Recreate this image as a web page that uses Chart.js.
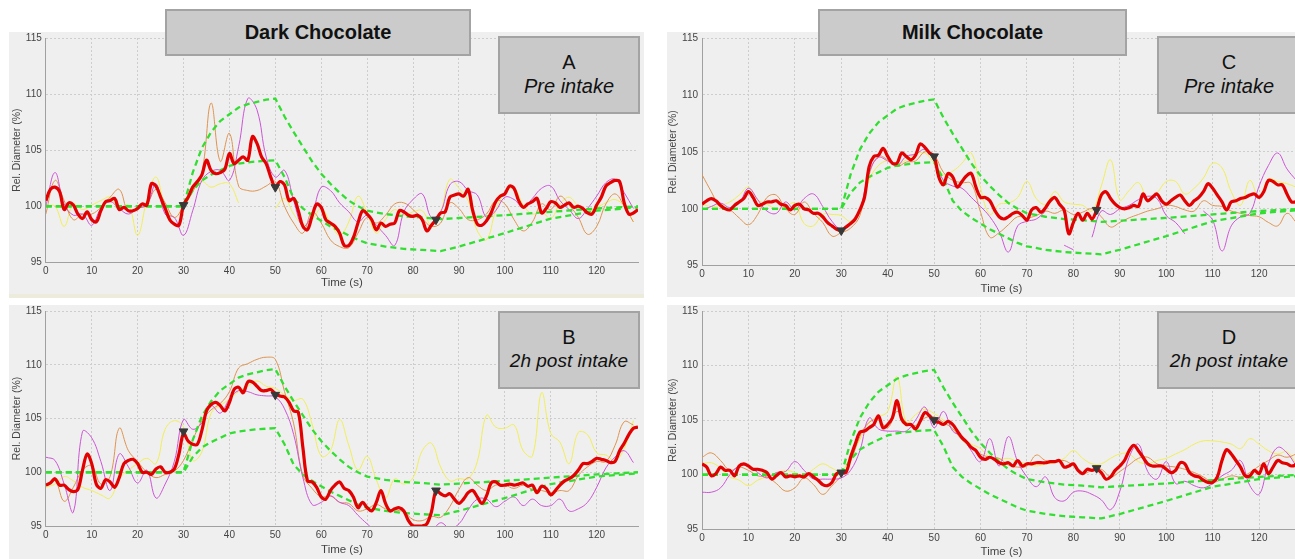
<!DOCTYPE html>
<html>
<head>
<meta charset="utf-8">
<script src="https://cdn.jsdelivr.net/npm/chart.js@4.4.1/dist/chart.umd.min.js"></script>
<style>
body{margin:0;width:1295px;height:559px;overflow:hidden;background:#fff;position:relative;font-family:"Liberation Sans",Arial,sans-serif}
.panel{position:absolute;background:#efefef}
.panel canvas{position:absolute;left:0;top:0}
.head{position:absolute;background:#cbcbcb;border:2px solid #a3a3a3;box-sizing:border-box;text-align:center;font-weight:bold;font-size:20px;line-height:43px;color:#111}
.tag{position:absolute;background:#c9c9c9;border:2px solid #a3a3a3;box-sizing:border-box;text-align:center;font-size:20px;line-height:24px;padding-top:12px;color:#111}
.tag i{display:block}
.strip{position:absolute;background:#ecebdc}
</style>
</head>
<body>
<div class="panel" style="left:9px;top:32px;width:635px;height:263px"><canvas id="chartA" width="635" height="263"></canvas></div>
<div class="strip" style="left:9px;top:294px;width:635px;height:4px"></div>
<div class="panel" style="left:9px;top:305px;width:635px;height:254px"><canvas id="chartB" width="635" height="254"></canvas></div>
<div class="panel" style="left:667px;top:32px;width:640px;height:265px"><canvas id="chartC" width="640" height="265"></canvas></div>
<div class="panel" style="left:667px;top:305px;width:640px;height:254px"><canvas id="chartD" width="640" height="254"></canvas></div>

<div class="head" style="left:165px;top:9px;width:306px;height:47px">Dark Chocolate</div>
<div class="head" style="left:818px;top:9px;width:309px;height:47px">Milk Chocolate</div>
<div class="tag" style="left:498px;top:36px;width:142px;height:78px">A<i>Pre intake</i></div>
<div class="tag" style="left:498px;top:311px;width:142px;height:78px">B<i style="font-size:19px">2h post intake</i></div>
<div class="tag" style="left:1157px;top:36px;width:144px;height:78px">C<i>Pre intake</i></div>
<div class="tag" style="left:1157px;top:311px;width:144px;height:78px">D<i style="font-size:19px">2h post intake</i></div>

<script>
// time axes (s)
const time1 = [0,1,2,3,4,5,6,7,8,9,10,11,12,13,14,15,16,17,18,19,20,21,22,23,24,25,26,27,28,29,
  30,31,32,33,34,35,36,37,38,39,40,41,42,43,44,45,46,47,48,49,50,51,52,53,54,55,56,57,58,59,
  60,61,62,63,64,65,66,67,68,69,70,71,72,73,74,75,76,77,78,79,80,81,82,83,84,85,86,87,88,89,
  90,91,92,93,94,95,96,97,98,99,100,101,102,103,104,105,106,107,108,109,110,111,112,113,114,115,116,117,118,119,
  120,121,122,123,124,125,126,127,128,129];
const time2 = [0,2,4,6,8,10,12,14,16,18,20,22,24,26,28,30,32,34,36,38,40,42,44,46,48,50,52,54,56,58,
  60,62,64,66,68,70,72,74,76,78,80,82,84,86,88,90,92,94,96,98,100,102,104,106,108,110,112,114,116,118,
  120,122,124,126,128];
const envTime = [0,30,32,34,36,38,40,42,44,46,48,50,52,54,56,58,60,62,64,66,68,70,74,78,82,86,90,100,110,120,129];
const markTime = [30,50,85];

// green reference band (same in every panel)
const upperEnv = [100,100,103.0,105.2,106.6,107.6,108.2,108.8,109.1,109.3,109.5,109.6,108.0,106.6,105.3,104.0,102.9,102.0,101.2,100.5,100.0,99.6,99.3,99.1,99.0,98.85,98.95,99.2,99.5,99.8,100.0];
const lowerEnv = [100,100,101.4,102.3,102.8,103.2,103.6,103.8,103.9,104.0,104.05,104.1,102.6,100.7,99.8,99.2,98.7,98.2,97.8,97.4,97.0,96.7,96.4,96.2,96.1,96.0,96.4,97.6,98.9,99.6,99.9];

// A: dark chocolate, pre intake
const redA = [100.5,101.5,101.7,101.3,99.7,100.3,100.1,99.3,98.9,99.5,98.8,98.6,99.6,100.4,100.5,100.7,99.7,99.9,99.6,99.6,
  99.8,100.2,100.1,102.0,101.8,100.8,99.8,98.8,98.4,98.3,100.1,100.8,101.7,102.2,102.8,104.1,103.2,102.9,103.0,103.3,
  104.7,103.8,104.1,104.4,104.1,106.2,105.6,104.4,103.8,102.6,101.7,102.2,101.9,100.5,100.7,99.6,98.2,97.9,99.1,100.2,
  99.9,98.8,98.5,98.2,97.6,96.5,96.5,97.2,98.5,99.6,99.3,98.8,97.9,98.5,98.2,98.4,98.5,99.6,99.5,99.2,
  99.1,99.2,98.8,97.8,98.3,98.8,99.4,99.5,100.8,101.0,101.1,100.9,101.5,99.6,98.4,98.3,98.7,99.4,100.4,100.9,
  101.1,101.8,101.6,100.5,99.9,100.2,100.4,100.7,99.4,99.8,100.4,100.3,99.9,100.1,100.3,99.9,100.0,99.8,99.4,99.3,
  100.1,100.8,101.8,102.1,102.3,102.2,100.3,99.3,99.4,99.7];
const purpleA = [100.0,103.0,100.2,99.2,99.3,98.3,99.8,100.4,99.8,99.3,99.8,100.1,102.0,99.3,99.0,97.4,99.6,102.3,103.1,103.2,
  102.3,105.3,109.6,108.6,104.4,102.6,103.2,100.5,98.2,99.3,101.7,101.4,100.3,99.5,98.6,99.2,98.3,97.4,96.5,99.5,
  100.6,101.1,99.0,99.5,101.9,102.2,101.4,101.0,99.0,99.6,100.8,100.6,99.9,100.7,101.6,101.8,100.5,99.7,98.9,99.8,
  100.9,102.1,102.4,101.2,99.8];
const orangeA = [99.3,102.3,100.5,98.8,99.3,99.3,99.9,100.8,101.5,99.5,99.8,100.2,101.5,100.3,99.0,100.0,101.3,103.0,109.2,104.0,
  106.5,101.8,101.4,101.4,101.8,102.2,100.0,98.5,97.6,99.5,98.5,97.0,96.4,96.3,97.6,99.0,98.5,99.2,100.2,100.3,
  99.7,98.9,98.2,98.5,100.3,99.8,98.8,98.8,99.3,100.5,100.2,98.8,97.8,98.6,100.2,99.7,100.9,100.1,99.0,97.5,
  98.2,100.2,101.1,100.0,98.6];
const yellowA = [100.0,100.0,98.2,100.2,99.7,100.1,100.5,100.8,99.7,100.1,97.4,100.5,102.6,100.0,99.0,100.0,101.4,102.2,101.7,102.0,
  102.0,100.3,null,null,null,99.8,100.7,99.3,98.4,98.8,99.8,98.5,97.4,98.6,100.9,99.4,97.6,98.8,99.7,99.2,
  99.5,99.6,98.3,99.5,102.4,101.6,100.5,97.8,97.0,99.6,101.2,101.6,100.1,99.3,99.5,98.9,100.2,100.8,100.0,99.5,
  99.9,100.3,100.6,100.0,98.6];
const markA = [100.1,101.7,98.8];

// B: dark chocolate, 2h post intake
const redB = [98.8,99.0,99.4,98.8,98.8,98.4,98.2,98.4,100.2,101.7,100.8,98.9,98.5,99.3,99.1,98.6,99.5,100.8,101.1,101.2,
  100.8,100.0,100.0,99.8,100.3,100.5,100.0,100.0,100.3,101.7,103.6,102.9,102.6,102.6,103.9,105.7,106.3,106.5,106.2,105.7,
  106.5,107.7,107.9,107.4,108.4,108.4,108.0,107.6,107.6,107.7,107.3,107.1,107.0,106.5,105.7,105.6,102.3,99.2,99.1,98.6,
  97.7,97.5,98.3,98.8,99.1,98.5,98.3,97.7,96.7,97.2,96.7,96.4,97.2,98.3,97.1,96.4,96.6,96.7,96.4,95.5,
  95.0,95.0,95.0,95.2,96.3,98.3,98.0,97.8,98.0,97.5,97.1,97.5,98.1,98.3,97.7,97.1,97.8,99.0,99.1,98.8,
  98.8,98.9,98.8,98.9,99.0,98.7,98.8,98.1,98.7,98.5,97.9,98.3,98.8,99.2,99.4,99.7,100.2,100.8,100.8,101.0,
  101.3,101.2,101.1,100.9,101.0,102.0,102.7,103.5,104.1,104.2];
const purpleB = [101.4,101.1,98.9,96.3,103.8,103.2,101.0,98.3,101.7,100.5,99.0,100.2,97.6,98.9,101.0,104.9,104.0,104.6,106.2,105.5,
  106.8,107.6,107.5,107.2,107.1,107.0,105.9,103.5,99.5,97.0,97.2,97.8,97.2,96.9,96.0,95.2,94.5,94.2,94.0,94.3,
  94.5,94.3,94.5,95.3,94.8,95.2,96.5,97.5,97.5,96.8,97.3,97.7,96.9,97.5,96.9,96.9,97.5,96.4,96.6,97.2,
  98.6,100.4,101.4,102.0,100.9];
const orangeB = [98.9,99.2,97.3,98.6,100.2,100.6,98.9,99.6,104.1,102.0,101.0,100.0,99.5,99.8,100.1,101.1,103.0,104.8,105.8,106.4,
  107.5,109.7,110.1,110.5,110.7,110.5,107.5,104.5,99.7,98.5,97.7,97.8,97.2,97.1,96.4,96.6,97.0,96.6,96.5,96.3,
  95.6,95.5,95.9,95.8,96.8,98.4,99.5,98.8,98.3,98.8,98.8,98.5,98.8,98.4,98.3,98.1,98.3,98.3,99.7,100.5,
  101.0,101.0,102.5,104.7,104.4];
const yellowB = [98.6,98.9,99.6,99.2,98.6,98.3,97.9,97.6,99.4,100.2,100.8,101.3,100.8,104.0,104.8,104.2,101.1,101.9,105.5,106.2,
  106.8,107.5,108.0,108.5,108.0,107.8,107.2,106.7,106.8,104.5,101.5,102.0,104.9,102.5,100.2,101.5,99.3,97.6,99.4,98.9,
  99.5,102.0,102.7,100.5,99.2,99.4,99.4,101.0,105.3,104.2,104.1,104.4,102.0,101.5,107.4,103.6,102.8,100.8,103.7,103.5,
  101.8,101.6,101.1,102.2,104.8];
const markB = [103.8,107.2,98.3];

// C: milk chocolate, pre intake
const redC = [100.4,100.7,100.9,100.7,100.3,100.0,99.9,100.3,100.6,100.9,101.5,101.0,100.3,100.4,100.6,100.6,100.7,100.4,100.3,99.9,
  100.3,100.4,100.0,99.9,99.6,99.6,99.3,98.8,98.5,98.2,98.1,98.4,98.7,99.1,99.9,101.0,103.7,104.6,104.7,105.3,
  104.6,104.0,104.0,104.9,104.6,104.3,104.7,105.7,105.4,104.9,104.6,102.8,102.1,103.1,102.8,101.9,102.4,102.9,103.1,101.9,
  101.0,101.0,100.7,99.9,99.3,99.1,99.3,99.6,99.7,99.4,99.0,99.9,100.1,99.7,100.1,100.7,101.0,100.4,99.9,97.8,
  98.8,99.6,99.0,99.6,99.1,99.9,101.2,101.5,100.9,100.4,100.1,100.0,100.1,100.3,100.2,101.3,100.7,101.0,101.3,100.7,
  100.4,100.7,101.0,101.2,100.7,100.3,100.7,101.0,101.5,102.2,101.8,101.2,100.6,99.9,100.6,100.7,100.9,101.0,101.2,101.3,
  101.0,101.5,102.5,102.4,102.1,102.1,101.3,100.6,100.6,100.5];
const purpleC = [99.9,100.2,100.5,100.1,100.5,101.8,100.8,99.8,99.6,100.6,99.9,100.9,101.3,100.2,98.9,98.2,98.6,99.9,103.2,104.5,
  104.2,103.8,104.6,104.8,105.2,104.2,102.5,102.0,101.8,101.0,100.2,99.3,98.0,96.2,98.5,98.9,99.1,99.8,null,96.8,
  96.4,null,97.5,99.8,99.5,100.0,100.3,100.8,101.1,100.9,99.4,98.8,97.8,null,99.8,99.0,96.3,98.5,99.3,99.6,
  102.0,103.8,104.9,103.5,102.5];
const orangeC = [103.0,101.5,100.1,99.9,99.2,98.6,99.5,101.0,101.2,100.0,99.5,100.6,99.6,98.8,97.6,97.9,98.3,99.4,103.0,104.6,
  104.3,103.7,104.1,104.2,105.0,104.7,103.2,102.5,102.3,102.2,99.7,97.5,97.9,98.6,99.3,99.2,99.4,99.8,99.6,99.9,
  99.5,99.7,100.0,99.3,98.4,98.8,99.2,99.5,99.8,100.0,100.3,100.2,99.9,99.8,100.7,100.3,100.2,99.8,99.6,99.4,
  99.3,98.8,98.5,99.6,98.8];
const yellowC = [100.4,100.2,100.3,100.6,101.2,101.9,100.8,100.4,100.0,100.2,100.5,98.7,98.5,99.5,99.5,99.4,98.9,99.8,102.5,103.8,
  104.2,103.9,104.3,104.8,104.9,104.0,103.0,103.3,104.0,104.9,101.8,99.5,100.4,100.5,101.0,102.4,100.9,100.4,101.5,100.6,
  100.4,100.3,99.8,102.0,104.3,100.8,101.6,102.3,100.9,101.4,102.4,102.4,101.3,101.8,102.7,104.0,103.6,101.5,100.3,102.5,
  101.0,102.6,102.4,102.2,101.9];
const markC = [98.1,104.6,99.9];

// D: milk chocolate, 2h post intake
const redD = [101.0,100.7,99.9,100.1,100.7,100.4,100.4,99.9,100.8,101.0,100.8,100.5,100.5,100.4,100.2,99.6,99.9,100.2,99.8,99.9,
  99.8,99.9,99.8,100.1,99.8,99.5,99.1,99.0,99.3,100.1,100.2,100.2,101.6,102.8,103.9,104.0,104.3,104.6,105.4,104.3,
  104.6,105.2,106.8,105.1,104.6,104.6,104.2,104.9,105.7,105.4,104.9,104.8,104.6,104.9,104.6,104.0,103.4,103.0,102.5,102.2,
  101.6,101.4,101.6,101.4,101.1,101.0,101.1,100.8,101.3,100.8,101.0,101.0,101.1,101.1,101.1,101.2,101.2,101.3,100.7,100.8,
  101.0,100.4,100.1,100.5,100.4,100.5,100.2,99.6,99.8,100.4,100.8,101.3,102.2,102.7,102.2,101.6,101.0,100.8,100.8,100.8,
  100.5,100.2,100.4,101.1,101.0,100.2,99.9,99.8,99.5,99.3,99.3,99.8,101.3,102.3,101.9,101.3,100.7,99.9,99.9,100.4,
  100.1,101.0,100.1,100.7,101.3,101.1,101.0,100.8,101.0,102.2];
const purpleD = [98.4,98.4,98.8,100.0,100.8,100.8,100.2,99.7,100.2,100.3,101.2,100.4,99.6,99.6,99.6,99.7,100.4,102.2,105.2,104.2,
  104.0,104.0,104.0,105.0,106.2,104.3,105.8,104.0,103.5,102.2,101.2,103.3,100.8,103.5,101.2,99.8,98.9,99.8,97.9,97.6,
  98.4,98.5,98.2,97.7,96.8,98.5,101.6,102.8,100.3,99.6,101.2,99.2,99.4,99.0,98.8,99.2,99.9,100.4,101.3,99.0,
  98.2,101.0,102.5,102.0,100.8];
const orangeD = [101.6,102.0,101.3,100.4,100.7,100.4,99.9,99.8,99.2,98.5,98.8,99.7,99.1,98.2,99.0,99.9,101.2,103.5,104.8,105.0,
  104.3,105.8,104.8,104.5,105.2,105.3,104.8,104.2,103.2,102.5,101.9,101.6,101.5,100.9,100.7,100.8,101.8,101.3,101.2,101.3,
  100.8,100.1,100.4,100.5,99.8,100.3,100.9,101.5,101.6,101.0,100.8,100.7,100.5,100.2,99.8,99.3,99.6,99.9,99.8,100.2,
  100.8,101.3,101.8,101.6,101.9];
const yellowD = [101.0,101.1,100.6,99.8,99.5,99.0,99.5,99.8,100.1,100.4,100.2,99.9,100.5,101.0,100.6,100.3,101.7,103.2,104.8,105.3,
  105.8,109.0,104.8,105.5,106.0,105.6,105.0,104.2,103.4,102.8,102.4,101.6,101.4,101.5,101.2,101.0,100.8,101.0,101.1,101.5,
  102.2,101.5,101.0,101.0,101.5,101.9,101.9,101.2,101.0,101.3,101.5,101.9,102.3,102.8,103.1,103.1,103.0,102.8,102.4,103.3,
  102.8,102.2,101.9,102.1,101.0];
const markD = [100.2,105.0,100.6];

const pts = (xs, ys) => ys.map((y, i) => ({x: xs[i], y: y}));
const font = '"Liberation Sans Narrow", "Liberation Sans", Arial, sans-serif';

function drawPanel(id, red, purple, orange, yellow, marks, box) {
  const thin = (data, color, order) => ({
    data: pts(time2, data), borderColor: color, borderWidth: 1, pointRadius: 0, tension: 0.4, order: order
  });
  const band = (data, order) => ({
    data: pts(envTime, data), borderColor: '#33de33', borderWidth: 2.3, borderDash: [6, 4], pointRadius: 0, tension: 0, order: order
  });
  new Chart(document.getElementById(id), {
    type: 'line',
    data: {
      datasets: [
        {data: pts(markTime, marks), showLine: false, pointStyle: 'triangle', rotation: 180, pointRadius: 5,
         pointBackgroundColor: '#383838', pointBorderColor: '#383838', order: 0},
        {data: pts(time1, red), borderColor: '#e20000', borderWidth: 3.2, pointRadius: 0, tension: 0.35, order: 1},
        band(upperEnv, 2),
        band(lowerEnv, 3),
        thin(purple, '#cc55d6', 4),
        thin(orange, '#de9350', 5),
        thin(yellow, '#f0ee58', 6)
      ]
    },
    options: {
      responsive: false,
      devicePixelRatio: 1,
      animation: false,
      layout: {padding: {top: box.top, right: box.right, left: 0, bottom: 0}},
      plugins: {legend: {display: false}, tooltip: {enabled: false}},
      scales: {
        x: {
          type: 'linear', min: 0, max: 129,
          ticks: {stepSize: 10, includeBounds: false, padding: 3, maxRotation: 0, color: '#444', font: {size: 10, family: font}},
          grid: {color: '#cdcdcd', drawTicks: false},
          border: {color: '#a0a0a0', dash: [2, 2]},
          title: {display: true, text: 'Time (s)', color: '#444', font: {size: 11.5, family: font}, padding: {top: 0, bottom: box.tb}},
          afterFit: s => { s.height = box.xh; s.paddingLeft = 0; s.paddingRight = 0; }
        },
        y: {
          min: 95, max: 115,
          ticks: {stepSize: 5, padding: 4, color: '#444', font: {size: 10, family: font}},
          grid: {color: '#cdcdcd', drawTicks: false},
          border: {color: '#a0a0a0', dash: [2, 2]},
          title: {display: true, text: 'Rel. Diameter (%)', color: '#444', font: {size: 10.5, family: font}, padding: {top: box.tl, bottom: 0}},
          afterFit: s => { s.width = box.yw; s.paddingTop = 0; s.paddingBottom = 0; }
        }
      }
    }
  });
}

drawPanel('chartA', redA, purpleA, orangeA, yellowA, markA, {top: 4.7, right: 2.3, yw: 36.8, xh: 32.7, tl: 2.2, tb: 5.2});
drawPanel('chartB', redB, purpleB, orangeB, yellowB, markB, {top: 5, right: 2.3, yw: 36.8, xh: 33, tl: 2.2, tb: 2.2});
drawPanel('chartC', redC, purpleC, orangeC, yellowC, markC, {top: 5.7, right: 6.1, yw: 35, xh: 31.3, tl: 0, tb: 0.9});
drawPanel('chartD', redD, purpleD, orangeD, yellowD, markD, {top: 5, right: 6.1, yw: 35, xh: 29.7, tl: 0, tb: 0});
</script>
</body>
</html>
